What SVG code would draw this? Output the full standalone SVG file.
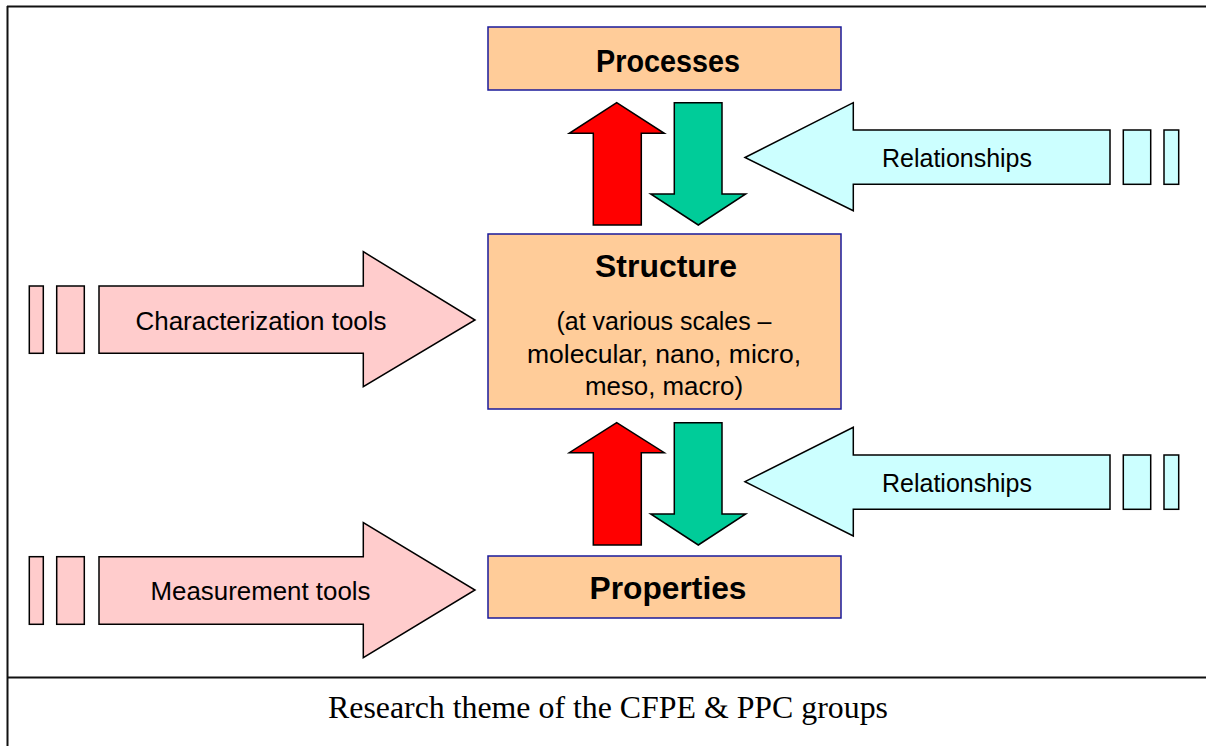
<svg xmlns="http://www.w3.org/2000/svg" width="1206" height="746" viewBox="0 0 1206 746">
<style>
.box{fill:#FFCC99;stroke:#1a1a9a;stroke-width:1.5}
.ar{stroke:#000;stroke-width:1.5;stroke-linejoin:miter}
.red{fill:#FF0000}
.grn{fill:#00CC99}
.cyan{fill:#CCFFFF}
.pink{fill:#FFCCCC}
.frame{stroke:#111;stroke-width:2;fill:none}
.bt{font-family:"Liberation Sans",Arial,sans-serif;font-weight:bold;font-size:32px;fill:#000;text-anchor:middle}
.t{font-family:"Liberation Sans",Arial,sans-serif;font-size:25px;fill:#000;text-anchor:middle}
.cap{font-family:"Liberation Serif","Times New Roman",serif;font-size:31px;fill:#000;text-anchor:middle}
</style>
<rect width="1206" height="746" fill="#fff"/>
<g id="frame">
<line class="frame" x1="7" y1="6.5" x2="1206" y2="6.5"/>
<line class="frame" x1="7.5" y1="6" x2="7.5" y2="746"/>
<line class="frame" x1="7" y1="677.5" x2="1206" y2="677.5"/>
</g>
<g id="connectors">
<polygon class="ar red" points="593.3,225 593.3,133.3 569.3,133.3 616.7,102.7 664.3,133.3 641.3,133.3 641.3,225"/>
<polygon class="ar grn" points="674.3,102.7 722,102.7 722,194 745.7,194 698.3,225 650.7,194 674.3,194"/>
<polygon class="ar red" points="593.3,545 593.3,452.7 569.3,452.7 616.7,422.7 664.3,452.7 641.3,452.7 641.3,545"/>
<polygon class="ar grn" points="674.3,422.7 722,422.7 722,514 745.7,514 698.3,545 650.7,514 674.3,514"/>
</g>
<g id="relationships-top">
<polygon class="ar cyan" points="745,157.5 853.3,102.7 853.3,130 1110,130 1110,184.3 853.3,184.3 853.3,210.7"/>
<rect class="ar cyan" x="1123.3" y="130" width="27.4" height="54.3"/>
<rect class="ar cyan" x="1164" y="130" width="14.7" height="54.3"/>
<text class="t" x="957" y="167" textLength="150" lengthAdjust="spacingAndGlyphs">Relationships</text>
</g>
<g id="relationships-bottom">
<polygon class="ar cyan" points="745,481.7 853.3,427.3 853.3,455 1110,455 1110,509.3 853.3,509.3 853.3,536"/>
<rect class="ar cyan" x="1123.3" y="455" width="27.4" height="54.3"/>
<rect class="ar cyan" x="1164" y="455" width="14.7" height="54.3"/>
<text class="t" x="957" y="492" textLength="150" lengthAdjust="spacingAndGlyphs">Relationships</text>
</g>
<g id="characterization">
<polygon class="ar pink" points="99,286 363.3,286 363.3,251.7 475,320 363.3,386.7 363.3,353.3 99,353.3"/>
<rect class="ar pink" x="29.3" y="286" width="14" height="67.3"/>
<rect class="ar pink" x="56.7" y="286" width="27.6" height="67.3"/>
<text class="t" x="261" y="330" textLength="251" lengthAdjust="spacingAndGlyphs">Characterization tools</text>
</g>
<g id="measurement">
<polygon class="ar pink" points="99,556.7 363.3,556.7 363.3,522.7 475,590 363.3,657.7 363.3,624.3 99,624.3"/>
<rect class="ar pink" x="29.3" y="556.7" width="14" height="67.6"/>
<rect class="ar pink" x="56.7" y="556.7" width="27.6" height="67.6"/>
<text class="t" x="260.5" y="600" textLength="220" lengthAdjust="spacingAndGlyphs">Measurement tools</text>
</g>
<g id="processes">
<rect class="box" x="488" y="27" width="353" height="63"/>
<text class="bt" x="668" y="72" textLength="144" lengthAdjust="spacingAndGlyphs">Processes</text>
</g>
<g id="structure">
<rect class="box" x="488" y="234" width="353" height="175"/>
<text class="bt" x="666" y="277" textLength="142" lengthAdjust="spacingAndGlyphs">Structure</text>
<text class="t" x="664" y="330" font-size="26" textLength="215" lengthAdjust="spacingAndGlyphs">(at various scales –</text>
<text class="t" x="664" y="362.7" font-size="26" textLength="274" lengthAdjust="spacingAndGlyphs">molecular, nano, micro,</text>
<text class="t" x="664" y="395" font-size="26" textLength="158" lengthAdjust="spacingAndGlyphs">meso, macro)</text>
</g>
<g id="properties">
<rect class="box" x="488" y="556" width="353" height="62"/>
<text class="bt" x="668" y="598.5" textLength="157" lengthAdjust="spacingAndGlyphs">Properties</text>
</g>
<g id="caption">
<text class="cap" x="608" y="718" textLength="560" lengthAdjust="spacingAndGlyphs">Research theme of the CFPE &amp; PPC groups</text>
</g>
</svg>
